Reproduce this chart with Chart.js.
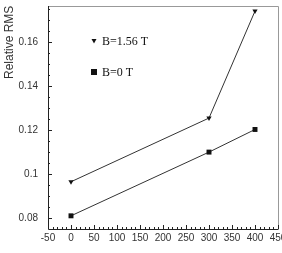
<!DOCTYPE html>
<html>
<head>
<meta charset="utf-8">
<script src="https://cdn.jsdelivr.net/npm/chart.js@4"></script>
<style>
  html, body { margin: 0; padding: 0; background: #fff; }
  #wrap { width: 282px; height: 253px; }
</style>
</head>
<body>
<div id="wrap"><canvas id="c" width="282" height="253"></canvas></div>
<script>
// data
const fieldLabels = ['B=1.56 T', 'B=0 T'];
const xHigh = [0, 300, 400];
const rmsHigh = [0.0965, 0.1255, 0.1742];
const xZero = [0, 300, 400];
const rmsZero = [0.081, 0.110, 0.1203];
const yTickVals = [0.08, 0.1, 0.12, 0.14, 0.16];
const yTickText = ['0.08', '0.1', '0.12', '0.14', '0.16'];

const toPts = (xs, ys) => xs.map((x, i) => ({ x: x, y: ys[i] }));

// inward ticks, frame, rotated title and inline legend
const decor = {
    id: 'decor',
    afterDraw(chart) {
        const { ctx, chartArea: a, scales } = chart;
        const xs = scales.x, ys = scales.y;
        ctx.save();
        ctx.lineWidth = 1;
        // frame: top/right light, left/bottom dark
        ctx.strokeStyle = '#999';
        ctx.beginPath();
        ctx.moveTo(a.left, a.top + 0.5); ctx.lineTo(a.right + 0.5, a.top + 0.5); ctx.lineTo(a.right + 0.5, a.bottom);
        ctx.stroke();
        ctx.strokeStyle = '#222';
        ctx.beginPath();
        ctx.moveTo(a.left + 0.5, a.top); ctx.lineTo(a.left + 0.5, a.bottom + 0.5); ctx.lineTo(a.right + 0.5, a.bottom + 0.5);
        ctx.stroke();
        // x ticks
        ctx.beginPath();
        for (let v = -50; v <= 450; v += 10) {
            const px = Math.round(xs.getPixelForValue(v)) + 0.5;
            const len = v % 50 === 0 ? 4 : 2;
            ctx.moveTo(px, a.bottom); ctx.lineTo(px, a.bottom - len);
        }
        // y ticks
        for (let k = 15; k <= 35; k++) {
            const v = k * 0.005;
            const py = Math.round(ys.getPixelForValue(v)) + 0.5;
            if (py < a.top || py > a.bottom) continue;
            const len = k % 4 === 0 ? 4 : 2;
            ctx.moveTo(a.left, py); ctx.lineTo(a.left + len, py);
        }
        ctx.stroke();
        // y title
        ctx.fillStyle = '#333';
        ctx.font = '12px "Liberation Sans", Arial, sans-serif';
        ctx.translate(12.5, 79);
        ctx.rotate(-Math.PI / 2);
        ctx.textAlign = 'left';
        ctx.textBaseline = 'alphabetic';
        ctx.fillText('Relative RMS', 0, 0);
        ctx.restore();
        // legend
        ctx.save();
        ctx.fillStyle = '#111';
        ctx.font = '12px "Liberation Serif", "Times New Roman", serif';
        ctx.textBaseline = 'middle';
        const lx = 94, ly = [41, 72];
        chart.data.datasets.forEach((ds, i) => {
            const y = ly[i];
            ctx.beginPath();
            if (ds.pointStyle === 'triangle') {
                ctx.moveTo(lx - 2.5, y - 2); ctx.lineTo(lx + 2.5, y - 2); ctx.lineTo(lx, y + 2.5);
            } else {
                ctx.rect(lx - 3, y - 3, 6, 6);
            }
            ctx.fill();
            ctx.fillText(fieldLabels[i], 102, y + 1);
        });
        ctx.restore();
    }
};

new Chart(document.getElementById('c'), {
    type: 'line',
    data: {
        datasets: [
            { label: fieldLabels[0], data: toPts(xHigh, rmsHigh), borderColor: '#333', borderWidth: 1,
              pointStyle: 'triangle', rotation: 180, pointRadius: 3, backgroundColor: '#111', pointBorderWidth: 0 },
            { label: fieldLabels[1], data: toPts(xZero, rmsZero), borderColor: '#333', borderWidth: 1,
              pointStyle: 'rect', pointRadius: 3.5, backgroundColor: '#111', pointBorderWidth: 0 }
        ]
    },
    options: {
        responsive: false,
        animation: false,
        layout: { padding: { top: 6, right: 4, left: 0, bottom: 0 } },
        plugins: { legend: { display: false }, tooltip: { enabled: false } },
        scales: {
            x: {
                type: 'linear', min: -50, max: 450,
                grid: { display: false, drawTicks: false },
                border: { display: false },
                ticks: { stepSize: 50, autoSkip: false, maxRotation: 0, padding: 3, color: '#333',
                         font: { family: '"Liberation Sans", Arial, sans-serif', size: 10 } },
                afterFit: s => { s.height = 24; s.paddingLeft = 0; s.paddingRight = 0; }
            },
            y: {
                type: 'linear', min: 0.075, max: 0.1765,
                grid: { display: false, drawTicks: false },
                border: { display: false },
                afterBuildTicks: s => { s.ticks = yTickVals.map(v => ({ value: v })); },
                ticks: { padding: 10, color: '#333',
                         callback: (v) => yTickText[yTickVals.indexOf(v)] ?? '',
                         font: { family: '"Liberation Sans", Arial, sans-serif', size: 10 } },
                afterFit: s => { s.width = 48; s.paddingTop = 0; s.paddingBottom = 0; }
            }
        }
    },
    plugins: [decor]
});
</script>
</body>
</html>
